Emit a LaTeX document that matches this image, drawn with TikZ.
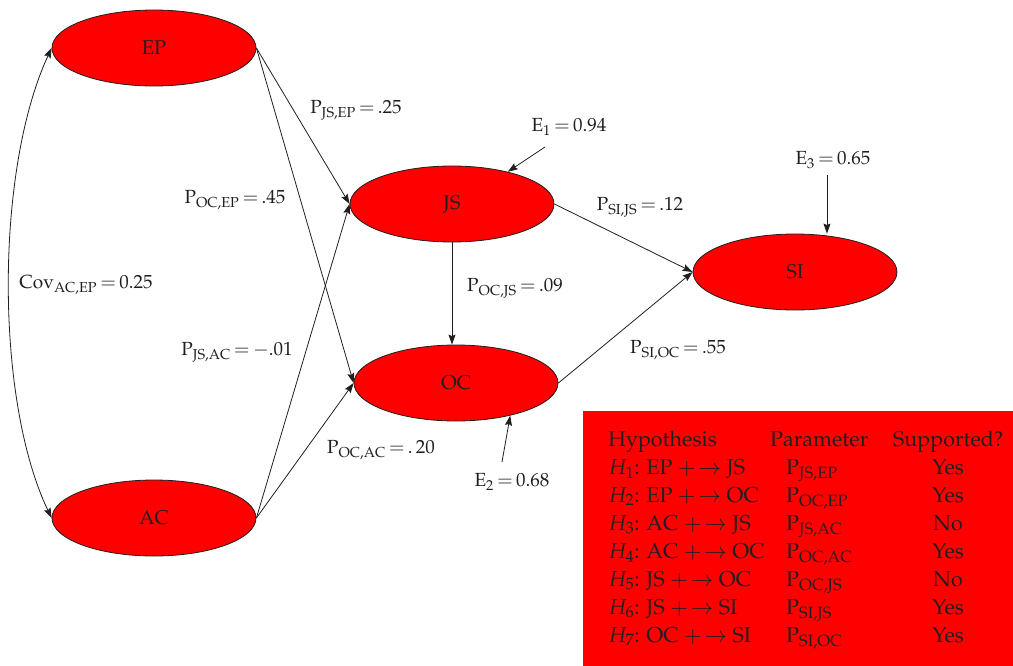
\documentclass[tikz,border=0pt]{standalone}
\usepackage[T1]{fontenc}
\usepackage{mathpazo}
\usetikzlibrary{arrows.meta,shapes.geometric}
\definecolor{nodered}{RGB}{255,0,0}
\definecolor{inkc}{RGB}{35,30,30}
\tikzset{
  latent/.style={ellipse, draw=inkc, line width=0.8pt, fill=nodered, minimum width=204pt, minimum height=76pt, inner sep=0pt, font=\fontsize{20}{23}\selectfont, text=inkc},
  lbl/.style={font=\fontsize{19}{22}\selectfont, text=inkc, inner sep=0pt},
  conn/.style={draw=inkc, line width=0.8pt, -{Stealth[length=10pt,width=7pt,inset=1.5pt]}},
  tcell/.style={font=\fontsize{21.5}{24}\selectfont, text=inkc, inner sep=0pt, anchor=base west},
  tcellc/.style={font=\fontsize{21.5}{24}\selectfont, text=inkc, inner sep=0pt, anchor=base},
}
\newcommand{\pth}[2]{$\mathrm{P}_{\mathrm{#1}}\,{=}\,#2$}
\begin{document}
\begin{tikzpicture}[x=1pt,y=-1pt]
\useasboundingbox (0,0) rectangle (1013,665);
% nodes
\node[latent] (EP) at (154,48) {EP};
\node[latent] (JS) at (452,204) {JS};
\node[latent] (OC) at (456,383) {OC};
\node[latent] (SI) at (795,272) {SI};
\node[latent] (AC) at (154,518) {AC};
% covariance
\draw[draw=inkc, line width=0.8pt, {Stealth[length=10pt,width=7pt,inset=1.5pt]}-{Stealth[length=10pt,width=7pt,inset=1.5pt]}]
  (EP.west) .. controls (-5,170) and (-5,400) .. (AC.west);
\node[lbl] (cov) at (86,285) {$\mathrm{Cov}_{\mathrm{AC,EP}}\,{=}\,0.25$};
% paths
\draw[conn] (EP.east) -- (JS.west);
\draw[conn] (EP.east) -- (OC.west);
\draw[conn] (AC.east) -- (JS.west);
\draw[conn] (AC.east) -- (OC.west);
\draw[conn] (JS.south) -- (JS.south |- OC.north);
\draw[conn] (JS.east) -- (SI.west);
\draw[conn] (OC.east) -- (SI.west);
% labels
\node[lbl] (l1) at (356,110) {\pth{JS,EP}{.25}};
\node[lbl] (l2) at (235,200) {\pth{OC,EP}{.45}};
\node[lbl] (l3) at (237,352) {\pth{JS,AC}{{-}.01}};
\node[lbl] (l4) at (381,450) {\pth{OC,AC}{.\,20}};
\node[lbl] (l5) at (515,288) {\pth{OC,JS}{.09}};
\node[lbl] (l6) at (640,207) {\pth{SI,JS}{.12}};
\node[lbl] (l7) at (678,350) {\pth{SI,OC}{.55}};
% errors
\node[lbl] (e1) at (569,127) {$\mathrm{E}_1\,{=}\,0.94$};
\node[lbl] (e2) at (512,482) {$\mathrm{E}_2\,{=}\,0.68$};
\node[lbl] (e3) at (833,160) {$\mathrm{E}_3\,{=}\,0.65$};
\coordinate (e1s) at (545,147);
\coordinate (e2s) at (502,462);
\coordinate (e3s) at (827,175);
\draw[conn] (e1s) -- (JS.30);
\draw[conn] (e2s) -- (OC.-31);
\draw[conn] (e3s) -- (SI.north -| e3s);
% table
\node[draw=inkc!80, line width=1pt, fill=nodered, minimum width=440pt, minimum height=260pt, anchor=north west, inner sep=0pt] (tab) at (583,411) {};
\node[tcell] (h0) at (608,446) {Hypothesis};
\node[tcell] (p0) at (770,446) {Parameter};
\node[tcell] (s0) at (893,446) {Supported?};
\foreach \i/\a/\b/\pp/\s in {1/EP/JS/{JS,EP}/Yes, 2/EP/OC/{OC,EP}/Yes, 3/AC/JS/{JS,AC}/No, 4/AC/OC/{OC,AC}/Yes, 5/JS/OC/{OC,JS}/No, 6/JS/SI/{SI,JS}/Yes, 7/OC/SI/{SI,OC}/Yes}{
  \node[tcell] (h\i) at (608,{446+28*\i}) {$H_{\i}$: \a\ $+\!\rightarrow$ \b};
  \node[tcell] (p\i) at (786,{446+28*\i}) {$\mathrm{P}_{\mathrm{\pp}}$};
  \node[tcellc] (s\i) at (948,{446+28*\i}) {\s};
}
\end{tikzpicture}
\end{document}
